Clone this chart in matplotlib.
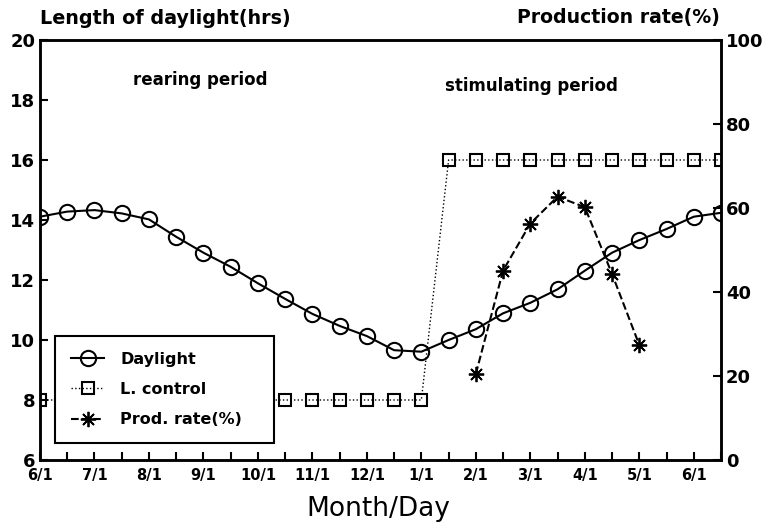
import matplotlib.pyplot as plt
import numpy as np

plt.rcParams['font.family'] = 'DejaVu Sans'

# half-month steps from 6/1 to 6/15 of the next year
month_labels = ['6/1', '7/1', '8/1', '9/1', '10/1', '11/1', '12/1',
                '1/1', '2/1', '3/1', '4/1', '5/1', '6/1']

daylight = [14.11, 14.28, 14.33, 14.22, 14.02, 13.44, 12.91, 12.44, 11.89,
            11.37, 10.87, 10.47, 10.13, 9.66, 9.61, 10.0, 10.36, 10.89,
            11.24, 11.69, 12.31, 12.91, 13.33, 13.7, 14.11, 14.24]
lcontrol = [8] * 15 + [16] * 11
prod_idx = [16, 17, 18, 19, 20, 21, 22]
prod_rate = [20.5, 45.1, 56.3, 62.7, 60.2, 44.3, 27.4]

x = np.arange(len(daylight))

fig = plt.figure(figsize=(7.72, 5.28), dpi=100)
ax = fig.add_axes([40 / 772, 68 / 528, 681 / 772, 420 / 528])
ax2 = ax.twinx()

ax.plot(x, daylight, '-', color='black', lw=1.5, marker='o', ms=11,
        mfc='none', mec='black', mew=1.5, label='Daylight')
ax.plot(x, lcontrol, ':', color='black', lw=1.0, marker='s', ms=9,
        mfc='none', mec='black', mew=1.5, label='L. control')
ax2.plot(prod_idx, prod_rate, '--', color='black', lw=1.5,
         marker=(8, 2, 0), ms=11, mew=1.3, label='Prod. rate(%)')

ax.set_xlim(0, 25)
ax.set_ylim(6, 20)
ax2.set_ylim(0, 100)
ax.set_xticks(np.arange(0, 26))
ax.set_xticklabels([month_labels[i // 2] if i % 2 == 0 else '' for i in range(26)])
ax.set_yticks(np.arange(6, 21, 2))
ax2.set_yticks(np.arange(0, 101, 20))

for a in (ax, ax2):
    a.tick_params(direction='in', length=6, width=1.5, labelsize=13)
    for s in a.spines.values():
        s.set_linewidth(1.8)
ax.tick_params(axis='x', labelsize=10.5, pad=6)
for lab in ax.get_xticklabels() + ax.get_yticklabels() + ax2.get_yticklabels():
    lab.set_fontweight('bold')

ax.text(0.235, 0.905, 'rearing period', transform=ax.transAxes, ha='center',
        va='center', fontsize=12, fontweight='bold')
ax.text(0.722, 0.89, 'stimulating period', transform=ax.transAxes, ha='center',
        va='center', fontsize=12, fontweight='bold')

fig.text(40 / 772, 1 - 18 / 528, 'Length of daylight(hrs)', ha='left',
         va='center', fontsize=13.8, fontweight='bold')
fig.text(720 / 772, 1 - 18 / 528, 'Production rate(%)', ha='right',
         va='center', fontsize=13.6, fontweight='bold')
fig.text(378 / 772, 1 - 509 / 528, 'Month/Day', ha='center', va='center',
         fontsize=19)

h1, l1 = ax.get_legend_handles_labels()
h2, l2 = ax2.get_legend_handles_labels()
leg = ax2.legend(h1 + h2, l1 + l2, loc='lower left',
                 bbox_to_anchor=(0.022, 0.04, 0.322, 0.262), mode='expand',
                 borderaxespad=0, fancybox=False,
                 edgecolor='black', framealpha=1,
                 prop={'weight': 'bold', 'size': 11.5}, labelspacing=0.95,
                 handlelength=2.1, handletextpad=1.0, borderpad=1.0)
leg.get_frame().set_linewidth(1.5)
leg.set_zorder(10)

fig.savefig('out.png', dpi=100)
